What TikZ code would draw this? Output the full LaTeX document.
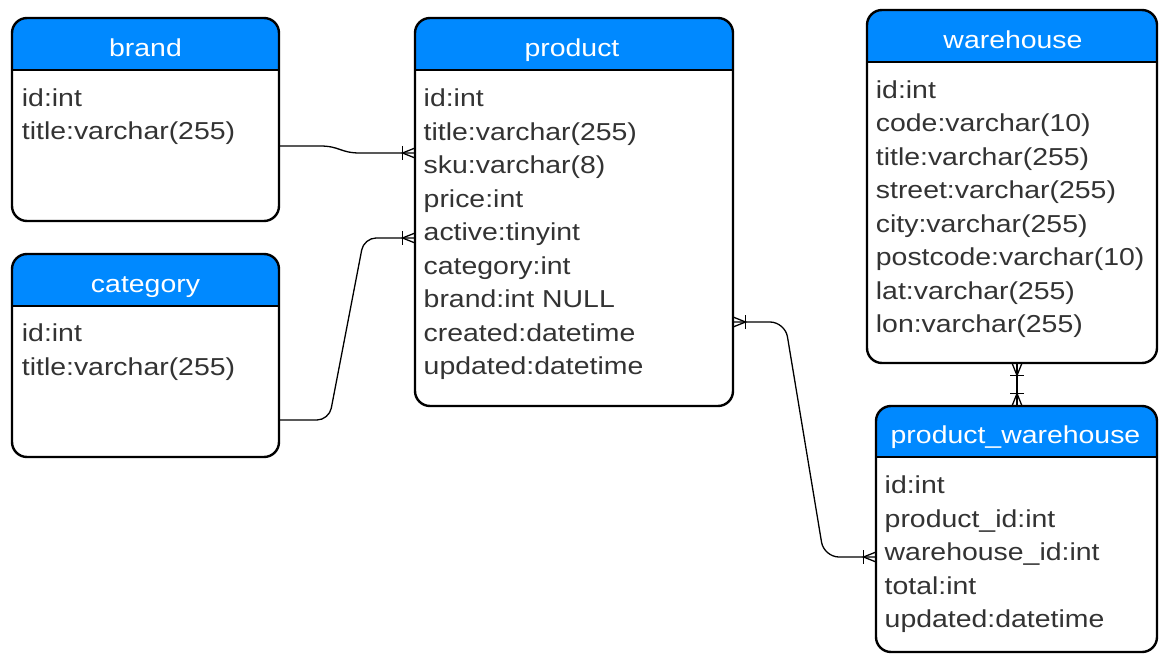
\documentclass[tikz,border=0pt]{standalone}
\usepackage{fontspec}
\newfontfamily\erfont{Liberation Sans}[FakeStretch=1.16]
\usetikzlibrary{calc}
\definecolor{hdrblue}{RGB}{0,137,255}
\definecolor{txtgray}{RGB}{51,51,51}
\begin{document}
\begin{tikzpicture}[x=1pt,y=-1pt,
  tbl/.style={inner sep=0pt, outer sep=0pt, anchor=north west},
  border/.style={line width=2.4pt, rounded corners=15pt},
  sep/.style={line width=2.2pt},
  conn/.style={line width=1.3pt, black},
  hdrtxt/.style={anchor=base, text=white, inner sep=0pt, font=\erfont\fontsize{24.5}{29}\selectfont},
  rowtxt/.style={anchor=base west, text=txtgray, inner sep=0pt, font=\erfont\fontsize{24.5}{29}\selectfont},
  crow/.pic={\draw[conn] (-12.5,-7) -- (-12.5,7); \draw[conn] (0,-5) -- (-12.5,0) -- (0,5);}
]
\useasboundingbox[fill=white] (0,0) rectangle (1159,655);

% ---------- brand ----------
\node[tbl, minimum width=267pt, minimum height=203pt] (brand) at (12,18) {};
\fill[white, rounded corners=15pt] (12,18) rectangle (279,221);
\fill[hdrblue] (12,70) [rounded corners=15pt] -- (12,18) -- (279,18) [sharp corners] -- (279,70) -- cycle;
\draw[sep] (12,70) -- (279,70);
\draw[border] (brand.north west) rectangle (brand.south east);
\node[hdrtxt] (brandt) at (145.5,56.7) {brand};
\foreach \t [count=\i from 0] in {id:int, title:varchar(255)}
  \node[rowtxt] (brandr\i) at (21.7,106.5+33.5*\i) {\t};

% ---------- category ----------
\node[tbl, minimum width=267pt, minimum height=203pt] (category) at (12,254) {};
\fill[white, rounded corners=15pt] (12,254) rectangle (279,457);
\fill[hdrblue] (12,306) [rounded corners=15pt] -- (12,254) -- (279,254) [sharp corners] -- (279,306) -- cycle;
\draw[sep] (12,306) -- (279,306);
\draw[border] (category.north west) rectangle (category.south east);
\node[hdrtxt] (categoryt) at (145.5,292.3) {category};
\foreach \t [count=\i from 0] in {id:int, title:varchar(255)}
  \node[rowtxt] (categoryr\i) at (21.7,341.7+33.5*\i) {\t};

% ---------- product ----------
\node[tbl, minimum width=318pt, minimum height=388pt] (product) at (415,18) {};
\fill[white, rounded corners=15pt] (415,18) rectangle (733,406);
\fill[hdrblue] (415,70) [rounded corners=15pt] -- (415,18) -- (733,18) [sharp corners] -- (733,70) -- cycle;
\draw[sep] (415,70) -- (733,70);
\draw[border] (product.north west) rectangle (product.south east);
\node[hdrtxt] (productt) at (572,56.7) {product};
\foreach \t [count=\i from 0] in {id:int, title:varchar(255), sku:varchar(8), price:int, active:tinyint, category:int, brand:int NULL, created:datetime, updated:datetime}
  \node[rowtxt] (productr\i) at (423.5,106.7+33.5*\i) {\t};

% ---------- warehouse ----------
\node[tbl, minimum width=290pt, minimum height=353pt] (warehouse) at (867,10) {};
\fill[white, rounded corners=15pt] (867,10) rectangle (1157,363);
\fill[hdrblue] (867,62) [rounded corners=15pt] -- (867,10) -- (1157,10) [sharp corners] -- (1157,62) -- cycle;
\draw[sep] (867,62) -- (1157,62);
\draw[border] (warehouse.north west) rectangle (warehouse.south east);
\node[hdrtxt] (warehouset) at (1013,48.3) {warehouse};
\foreach \t [count=\i from 0] in {id:int, code:varchar(10), title:varchar(255), street:varchar(255), city:varchar(255), postcode:varchar(10), lat:varchar(255), lon:varchar(255)}
  \node[rowtxt] (warehouser\i) at (875.7,98.3+33.5*\i) {\t};

% ---------- product_warehouse ----------
\node[tbl, minimum width=281pt, minimum height=246pt] (pw) at (876,406) {};
\fill[white, rounded corners=15pt] (876,406) rectangle (1157,652);
\fill[hdrblue] (876,457) [rounded corners=15pt] -- (876,406) -- (1157,406) [sharp corners] -- (1157,457) -- cycle;
\draw[sep] (876,457) -- (1157,457);
\draw[border] (pw.north west) rectangle (pw.south east);
\node[hdrtxt] (pwt) at (1015.5,443.3) {product\_warehouse};
\foreach \t [count=\i from 0] in {id:int, product\_id:int, warehouse\_id:int, total:int, updated:datetime}
  \node[rowtxt] (pwr\i) at (884.5,493.5+33.5*\i) {\t};

% ---------- connectors ----------
\coordinate (c1a) at ($(brand.north east)+(0,128)$);
\coordinate (c1b) at ($(product.north west)+(0,135)$);
\draw[conn] (c1a) -- (320,146) .. controls (340,146) and (340,153) .. (360,153) -- (c1b);
\pic at (c1b) {crow};

\coordinate (c2a) at ($(category.north east)+(0,166)$);
\coordinate (c2b) at ($(product.north west)+(0,220)$);
\draw[conn, rounded corners=12pt] (c2a) -- (329,420) -- (364,238) -- (c2b);
\pic at (c2b) {crow};

\coordinate (c3a) at ($(product.north east)+(0,304)$);
\coordinate (c3b) at ($(pw.north west)+(0,151)$);
\draw[conn, rounded corners=15pt] (c3a) -- (785,322) -- (824,557) -- (c3b);
\pic[rotate=180] at (c3a) {crow};
\pic at (c3b) {crow};

\coordinate (c4a) at ($(warehouse.south west)+(150,0)$);
\coordinate (c4b) at ($(pw.north west)+(141,0)$);
\draw[conn] (c4a) -- (c4b);
\pic[rotate=90] at (c4a) {crow};
\pic[rotate=-90] at (c4b) {crow};
\end{tikzpicture}
\end{document}
